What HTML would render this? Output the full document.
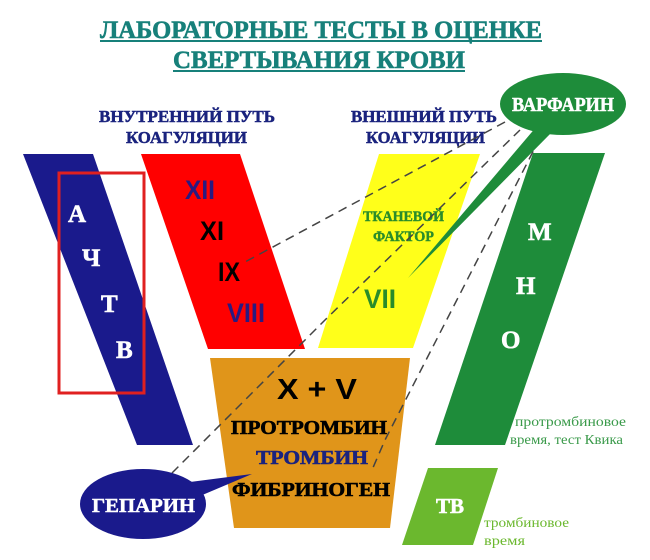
<!DOCTYPE html>
<html><head><meta charset="utf-8"><style>html,body{margin:0;padding:0;background:#fff}svg{display:block}text{font-weight:700}</style></head>
<body>
<svg width="650" height="560" viewBox="0 0 650 560" xmlns="http://www.w3.org/2000/svg" font-family="'Liberation Serif',serif" style="font-weight:700">
<rect width="650" height="560" fill="#fff"/>
<g fill="#17807a" stroke="#17807a" stroke-width="0.6" font-size="25">
<text x="100" y="38" textLength="442" lengthAdjust="spacingAndGlyphs">ЛАБОРАТОРНЫЕ ТЕСТЫ В ОЦЕНКЕ</text>
<text x="173" y="68" textLength="292" lengthAdjust="spacingAndGlyphs">СВЕРТЫВАНИЯ КРОВИ</text>
</g>
<rect x="100" y="40" width="442" height="2" fill="#17807a"/>
<rect x="173" y="70" width="292" height="2" fill="#17807a"/>
<g fill="#1a237e" stroke="#1a237e" stroke-width="0.5" font-size="17">
<text x="99" y="122" textLength="176" lengthAdjust="spacingAndGlyphs">ВНУТРЕННИЙ ПУТЬ</text>
<text x="126" y="143" textLength="121" lengthAdjust="spacingAndGlyphs">КОАГУЛЯЦИИ</text>
<text x="351" y="122" textLength="146" lengthAdjust="spacingAndGlyphs">ВНЕШНИЙ ПУТЬ</text>
<text x="366" y="143" textLength="119" lengthAdjust="spacingAndGlyphs">КОАГУЛЯЦИИ</text>
</g>
<polygon points="23,154 93,154 193,445 137,445" fill="#1a1a8c"/>
<polygon points="141,154 240,154 305,349 208,349" fill="#ff0000"/>
<polygon points="379,154 480,154 413,348 318,348" fill="#ffff1a"/>
<polygon points="210,358 410,358 390,528 234,528" fill="#e0951a"/>
<polygon points="533,153 605,153 505,445 435,445" fill="#1e8c3a"/>
<polygon points="428,468 498,468 473,545 402,545" fill="#6bb82e"/>
<rect x="59" y="173" width="85" height="220" fill="none" stroke="#e02020" stroke-width="3"/>
<g fill="#fff" stroke="#fff" stroke-width="0.6" font-size="25">
<text x="68" y="222">А</text><text x="82" y="266">Ч</text><text x="101" y="312">Т</text><text x="116" y="358">В</text>
<text x="528" y="240">М</text><text x="516" y="294">Н</text><text x="501" y="348">О</text>
<text x="436" y="513" font-size="21">ТВ</text>
</g>
<g font-family="'Liberation Sans',sans-serif" font-size="27">
<text x="185" y="199" fill="#2a1a80" textLength="30" lengthAdjust="spacingAndGlyphs">XII</text>
<text x="200" y="240" fill="#000" textLength="24" lengthAdjust="spacingAndGlyphs">XI</text>
<text x="218" y="281" fill="#000" textLength="22" lengthAdjust="spacingAndGlyphs">IX</text>
<text x="227" y="322" fill="#2a1a80" textLength="38" lengthAdjust="spacingAndGlyphs">VIII</text>
<text x="364" y="308" fill="#2a8c2a" textLength="32" lengthAdjust="spacingAndGlyphs">VII</text>
<text x="277" y="399" fill="#000" font-size="29" textLength="80" lengthAdjust="spacingAndGlyphs">X + V</text>
</g>
<g font-size="15" fill="#2a8c2a" stroke="#2a8c2a" stroke-width="0.4">
<text x="363" y="221" textLength="81" lengthAdjust="spacingAndGlyphs">ТКАНЕВОЙ</text>
<text x="373" y="241" textLength="61" lengthAdjust="spacingAndGlyphs">ФАКТОР</text>
</g>
<g font-size="20" stroke-width="0.6">
<text x="231" y="434" fill="#000" stroke="#000" textLength="156" lengthAdjust="spacingAndGlyphs">ПРОТРОМБИН</text>
<text x="256" y="464" fill="#1a237e" stroke="#1a237e" textLength="112" lengthAdjust="spacingAndGlyphs">ТРОМБИН</text>
<text x="232" y="496" fill="#000" stroke="#000" textLength="158" lengthAdjust="spacingAndGlyphs">ФИБРИНОГЕН</text>
</g>
<g font-size="14" fill="#3a9a4a" style="font-weight:400">
<text x="515" y="426" style="font-weight:400" textLength="111" lengthAdjust="spacingAndGlyphs">протромбиновое</text>
<text x="510" y="444" style="font-weight:400" textLength="113" lengthAdjust="spacingAndGlyphs">время, тест Квика</text>
<text x="484" y="527" fill="#6bb82e" style="font-weight:400" textLength="85" lengthAdjust="spacingAndGlyphs">тромбиновое</text>
<text x="484" y="545" fill="#6bb82e" style="font-weight:400" textLength="41" lengthAdjust="spacingAndGlyphs">время</text>
</g>
<g stroke="#444" stroke-width="1.5" stroke-dasharray="9,6" fill="none">
<line x1="505" y1="122" x2="245" y2="262"/>
<polyline points="172,473 325,320 520,130"/>
<polyline points="540,138 385,440 372,470"/>
</g>
<polygon points="537,126 552,132 408,278" fill="#1e8c3a"/>
<polygon points="190,482 200,496 252,474" fill="#1a1a8c"/>
<ellipse cx="563" cy="104" rx="63" ry="31" fill="#1e8c3a"/>
<text x="512" y="111" fill="#fff" stroke="#fff" stroke-width="0.5" font-size="20" textLength="102" lengthAdjust="spacingAndGlyphs">ВАРФАРИН</text>
<ellipse cx="143" cy="504" rx="63" ry="35" fill="#1a1a8c"/>
<text x="92" y="512" fill="#fff" stroke="#fff" stroke-width="0.5" font-size="20" textLength="103" lengthAdjust="spacingAndGlyphs">ГЕПАРИН</text>
</svg>
</body></html>
